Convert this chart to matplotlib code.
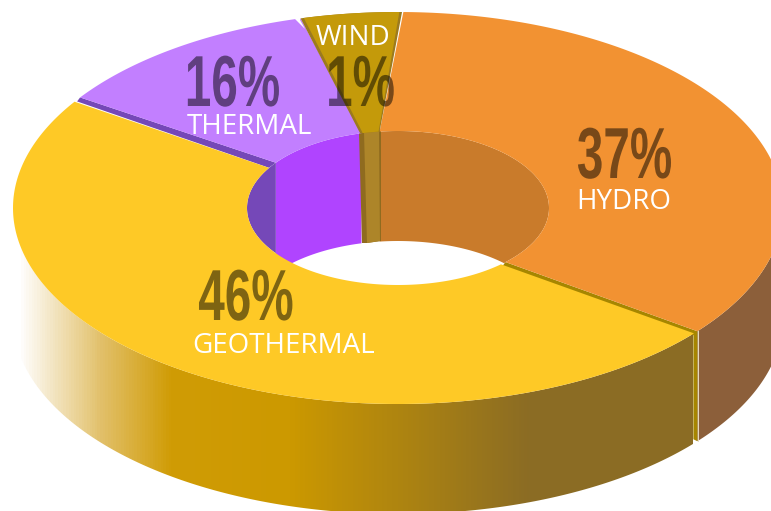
import numpy as np
import matplotlib
matplotlib.use('Agg')
import matplotlib.pyplot as plt
import matplotlib.patheffects as pe
from matplotlib.colors import LinearSegmentedColormap
from matplotlib.patches import Polygon
from matplotlib.transforms import Affine2D

# slices clockwise from the top
names = ['HYDRO', 'GEOTHERMAL', 'THERMAL', 'WIND']
percents = [37, 46, 16, 1]
# the picture does not draw the slices to scale, this is the share of the ring each one takes
drawn_share = [35.6, 48.3, 11.5, 4.6]
top_colors = ['#f29232', '#fec926', '#c27fff', '#c49a0a']

W, H = 771, 511
cx, cy = 398, 208
rx, ry = 385, 196
hole_rx, hole_ry = 151, 77
depth = 110
start = 89.2

# angles of the slice borders on the outer rim
edges = start - np.cumsum([0] + drawn_share) * 3.6


def arc(a0, a1, rad_x, rad_y, dy=0):
    t = np.radians(np.linspace(a0, a1, 200))
    return np.column_stack([cx + rad_x * np.cos(t), cy - rad_y * np.sin(t) + dy])


def slice_top(a0, a1, b0, b1):
    return np.vstack([arc(a0, a1, rx, ry), arc(b1, b0, hole_rx, hole_ry)])


def sweep(a0, a1, rad_x, rad_y):
    return np.vstack([arc(a0, a1, rad_x, rad_y), arc(a1, a0, rad_x, rad_y, depth)])


class Squeeze(pe.AbstractPathEffect):
    # narrows the glyphs around x0, no condensed bold font is installed
    def __init__(self, sx, x0):
        super().__init__()
        self.sx = sx
        self.x0 = x0

    def draw_path(self, renderer, gc, tpath, affine, rgbFace=None):
        squeeze = Affine2D().translate(-self.x0, 0).scale(self.sx, 1).translate(self.x0, 0)
        renderer.draw_path(gc, tpath, affine + squeeze, rgbFace)


fig = plt.figure(figsize=(W / 100, H / 100), dpi=100)
ax = fig.add_axes([0, 0, 1, 1])
ax.set_xlim(0, W)
ax.set_ylim(H, 0)
ax.axis('off')

# outer walls
wall = Polygon(sweep(180, 360 + edges[1] - 0.7, rx, ry), fc='none', ec='none')
ax.add_patch(wall)
grad = LinearSegmentedColormap.from_list('wall', [(0, '#ffffff'), (82 / 675, '#e2c06a'), (152 / 675, '#d09c05'),
                                                  (272 / 675, '#cc9900'), (512 / 675, '#8b6c24'), (1, '#8b6c24')])
im = ax.imshow(np.linspace(0, 1, 675).reshape(1, -1), cmap=grad, extent=(18, 693, H, 0), aspect='auto', zorder=1)
im.set_clip_path(wall)
ax.set_xlim(0, W)
ax.set_ylim(H, 0)
ax.add_patch(Polygon(sweep(edges[1], -5, rx, ry), fc='#8c5f3a', ec='none', zorder=1))

# hole walls
ax.add_patch(Polygon(sweep(97, -45, hole_rx, hole_ry), fc='#c97b2b', ec='none', zorder=2))
ax.add_patch(Polygon(sweep(144, 104, hole_rx, hole_ry), fc='#b044ff', ec='none', zorder=2))
ax.add_patch(Polygon(sweep(144, 216, hole_rx, hole_ry), fc='#7548b8', ec='none', zorder=2))
ax.add_patch(Polygon([(359, 132), (381, 130), (381, 241), (367, 243), (362, 243)], fc='#8f6b1f', ec='none', zorder=2))
ax.add_patch(Polygon([(364, 132), (379, 131), (380, 241), (367, 243)], fc='#ad8529', ec='none', zorder=2))

# dark faces showing along the slice borders
p_out = arc(edges[1], edges[1], rx, ry)[0]
p_in = arc(-44.6, -44.6, hole_rx, hole_ry)[0]
ax.add_patch(Polygon([p_in, p_out, p_out + (0, depth), p_out + (-4, depth - 2), p_out + (-4, 4), p_in + (-3, 4)],
                     fc='#a68600', ec='none', zorder=3))
ax.plot([p_out[0] + 1, p_out[0] + 1], [p_out[1], p_out[1] + depth], color='#e8dcc0', lw=0.7, zorder=3)
q_out = arc(edges[2] - 1.5, edges[2] - 1.5, rx, ry)[0]
q_in = arc(144, 144, hole_rx, hole_ry)[0]
ax.add_patch(Polygon([q_out, q_in, q_in + (-7, 5), q_out + (-3, 4)], fc='#7548b8', ec='none', zorder=3))

# tops of the slices
ax.add_patch(Polygon(slice_top(edges[0], edges[1], 97, -44.6), fc=top_colors[0], ec='none', zorder=4))
ax.add_patch(Polygon(slice_top(edges[1] - 0.8, edges[2], -47, 148.6 - 360), fc=top_colors[1], ec='none', zorder=4))
ax.add_patch(Polygon(slice_top(edges[2] - 1.5, edges[3] - 1.1, 144, 104), fc=top_colors[2], ec='none', zorder=4))
# small white notch between thermal and wind at the rim
ax.add_patch(Polygon([(292, 16), (302, 14), (300, 20), (305, 29)], fc='white', ec='none', zorder=4))
# wind slice with its two dark sides
wind_dark = slice_top(edges[3] - 1.1, edges[4] + 0.2, 104.5, 97)
ax.add_patch(Polygon(wind_dark, fc='#9c7a1e', ec='none', zorder=4))
ax.add_patch(Polygon(slice_top(edges[3] - 1.6, edges[4] + 0.6, 103.5, 97.4), fc=top_colors[3], ec='none', zorder=4))

# labels
percent_pos = [(624.5, 178), (246, 320), (232.5, 106), (360.5, 106)]
name_pos = [(624, 209), (284, 353), (249, 134), (353, 45)]
for name, pct, (px, py), (nx, ny) in zip(names, percents, percent_pos, name_pos):
    ax.text(px, py, f'{pct}%', ha='center', va='baseline', fontsize=52, fontweight='bold',
            family=['Liberation Sans Narrow', 'Liberation Sans'], color='black', alpha=0.5, zorder=6,
            path_effects=[Squeeze(0.66, px)])
    ax.text(nx, ny, name, ha='center', va='baseline', fontsize=20, family='Open Sans', color='white', zorder=7)

fig.savefig('out.png', dpi=100)
